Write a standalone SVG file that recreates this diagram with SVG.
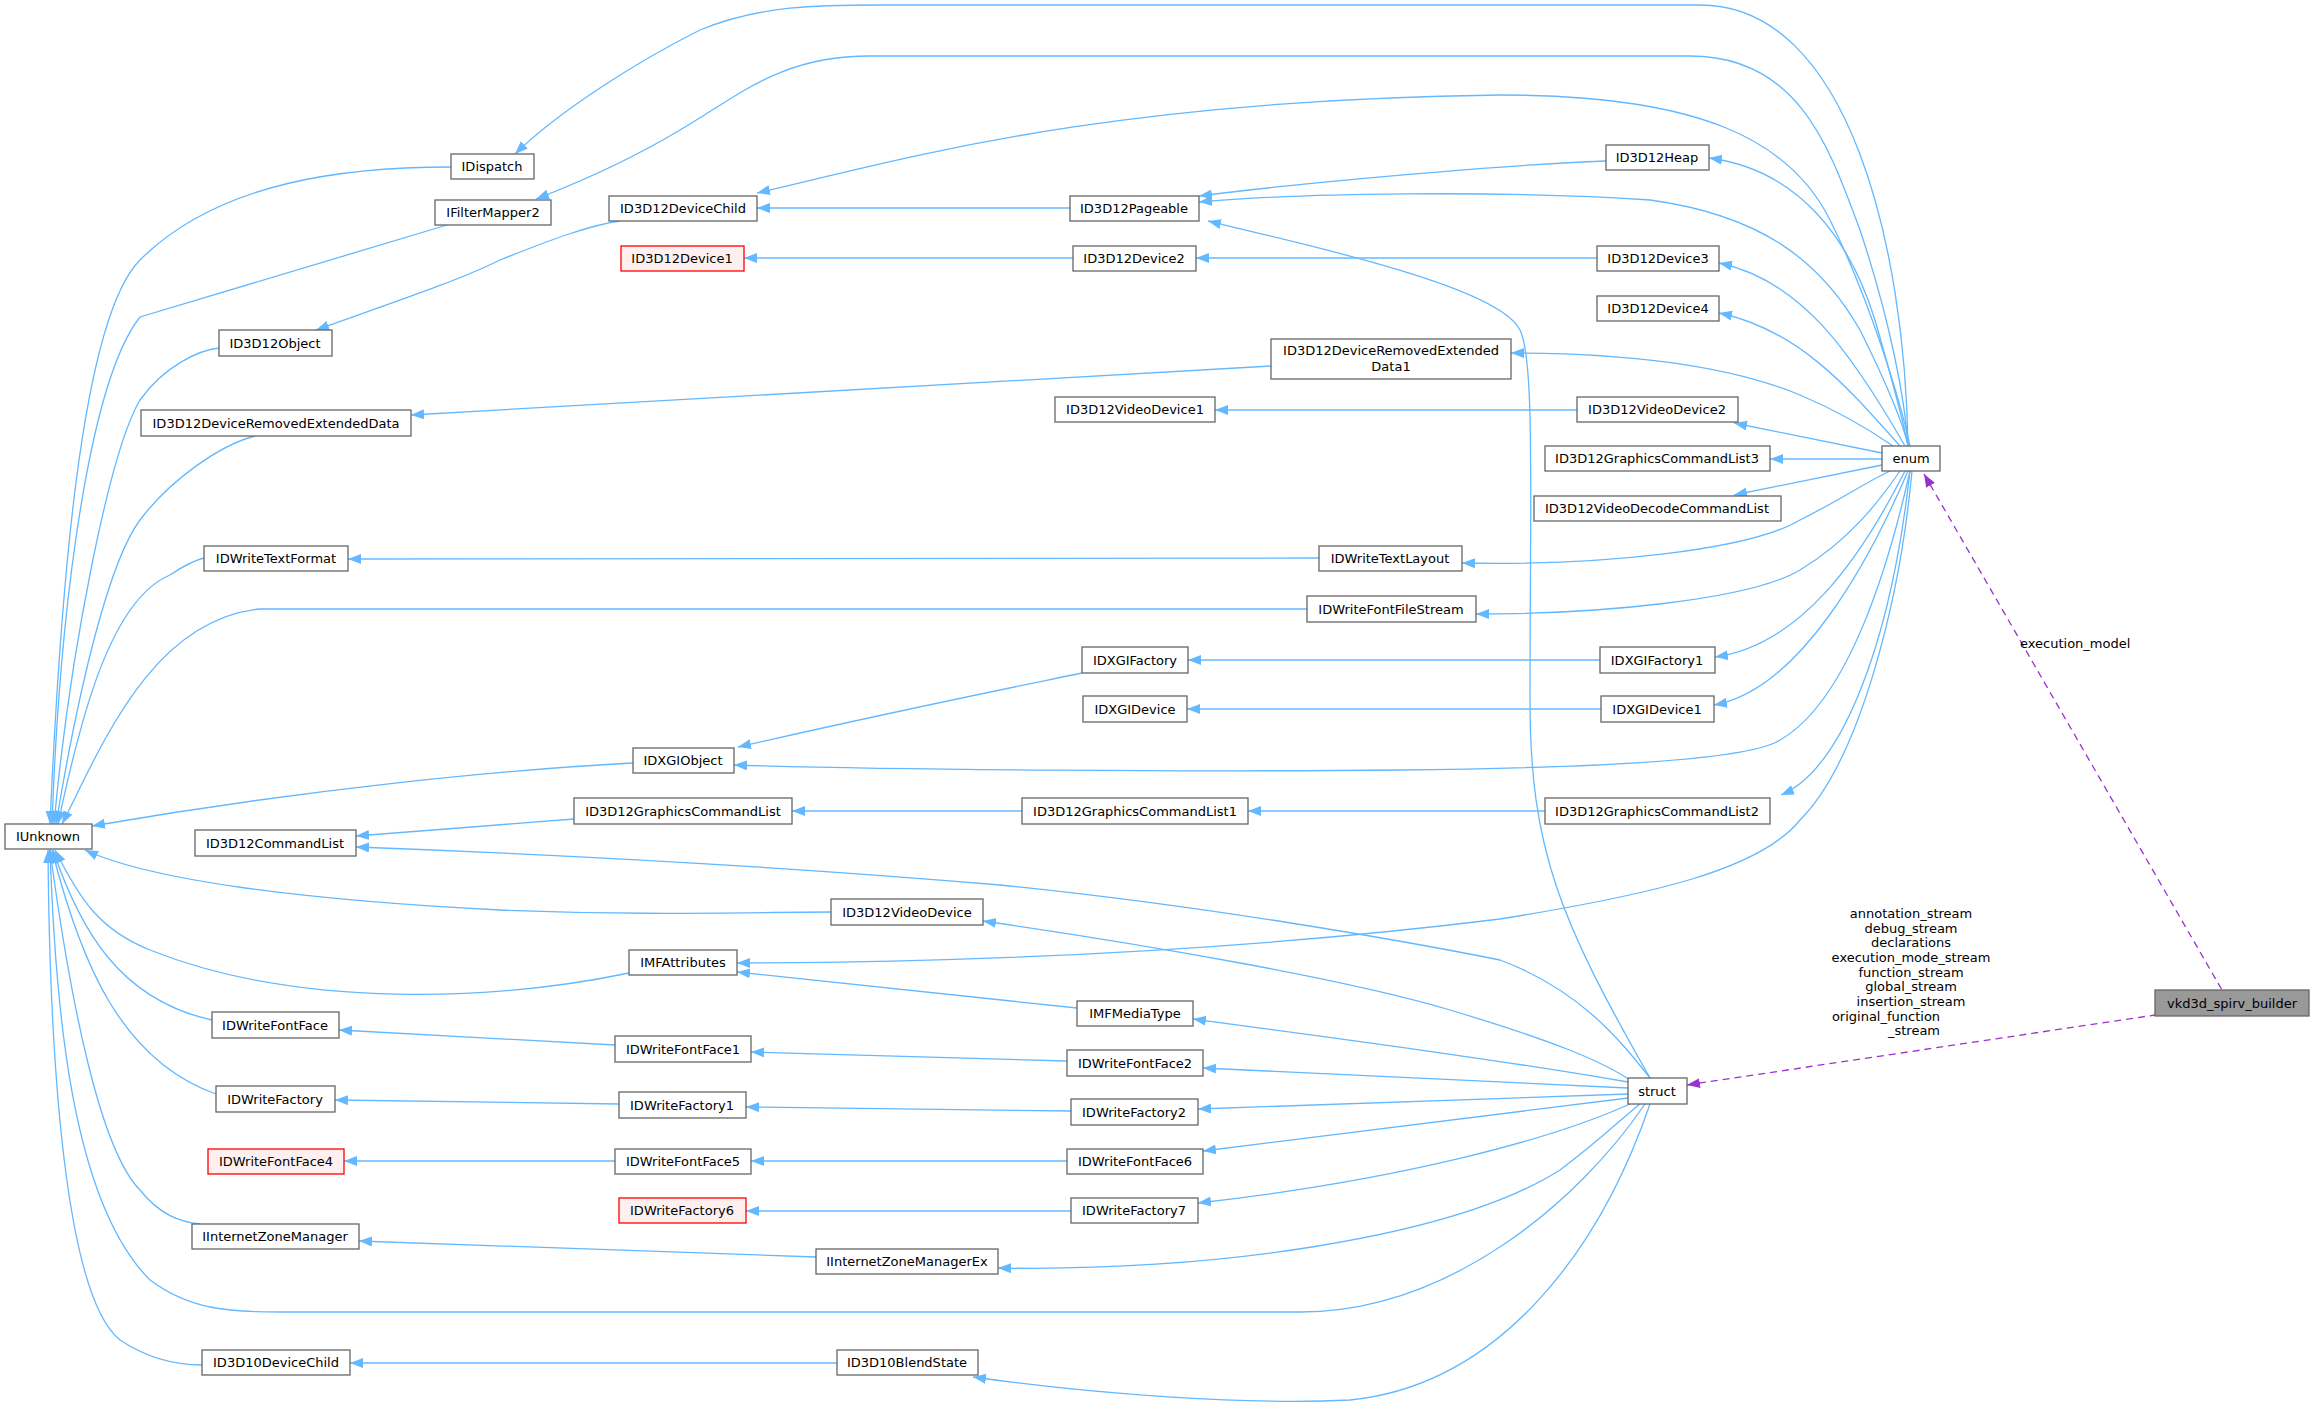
<svg xmlns="http://www.w3.org/2000/svg" width="2315" height="1407" viewBox="0 0 2315 1407">
<style>
.n rect{fill:#fff;stroke:#666;stroke-width:1.3}
.r rect{fill:#fff0f0;stroke:#ff0000;stroke-width:1.3}
.g rect{fill:#999;stroke:#666;stroke-width:1.3}
text{font-family:"DejaVu Sans",sans-serif;font-size:13px;fill:#000;text-anchor:middle}
#edges path{fill:none;stroke:#63b8ff;stroke-width:1.3;marker-start:url(#a)}
#edges path.d{stroke:#9a32cd;stroke-dasharray:7,5;marker-start:url(#p)}
.lbl{text-anchor:middle}
</style>
<defs>
<marker id="a" markerUnits="userSpaceOnUse" markerWidth="14" markerHeight="12" refX="13" refY="5" orient="auto-start-reverse"><path d="M0,0L13,5L0,10z" fill="#63b8ff"/></marker>
<marker id="p" markerUnits="userSpaceOnUse" markerWidth="14" markerHeight="12" refX="13" refY="5" orient="auto-start-reverse"><path d="M0,0L13,5L0,10z" fill="#9a32cd"/></marker>
</defs>
<rect width="2315" height="1407" fill="#fff"/>
<g id="edges">
<path d="M515,154 C560,110 640,60 700,30 C760,5 820,5 880,5 L1700,5 C1850,5 1905,250 1908,446"/>
<path d="M536,199 C580,182 630,160 680,130 C740,95 780,56 870,56 L1690,56 C1800,56 1830,150 1860,230 C1890,320 1905,400 1908,446"/>
<path d="M757,193 C900,160 1100,100 1500,95 C1700,95 1790,140 1830,220 C1870,300 1900,400 1910,446"/>
<path d="M1199,196 C1300,183 1500,165 1606,161"/>
<path d="M1199,202 C1300,193 1500,190 1650,200 C1760,215 1820,260 1860,330 C1890,390 1905,430 1908,446"/>
<path d="M1208,221 C1350,255 1500,290 1520,330 C1535,360 1530,500 1530,700 C1530,850 1560,920 1650,1078"/>
<path d="M1709,158 C1800,170 1850,240 1875,320 C1895,390 1905,430 1908,446"/>
<path d="M1719,263 C1800,280 1850,350 1905,446"/>
<path d="M1719,313 C1800,330 1850,390 1900,446"/>
<path d="M1511,353 C1650,353 1740,370 1800,395 C1840,412 1870,430 1893,446"/>
<path d="M1734,423 L1882,453"/>
<path d="M1770,459 L1882,459"/>
<path d="M1734,495 L1882,465"/>
<path d="M1462,563 C1600,566 1750,550 1800,520 C1840,500 1870,480 1890,471"/>
<path d="M1476,614 C1600,614 1750,600 1800,570 C1850,540 1880,500 1900,471"/>
<path d="M1715,657 C1800,645 1860,560 1905,471"/>
<path d="M1714,705 C1800,690 1870,560 1908,471"/>
<path d="M734,765 C900,770 1200,772 1400,770 C1600,768 1750,760 1780,740 C1850,700 1890,560 1910,471"/>
<path d="M1781,795 C1840,770 1890,650 1910,471"/>
<path d="M737,963 C1000,962 1250,950 1500,919 C1650,895 1760,870 1800,820 C1860,760 1900,600 1912,471"/>
<path d="M356,847 C600,856 800,868 1000,885 C1200,905 1400,940 1500,960 C1580,990 1620,1040 1650,1078"/>
<path d="M983,921 C1150,945 1350,980 1450,1010 C1550,1040 1600,1060 1630,1080"/>
<path d="M1193,1019 C1350,1040 1500,1060 1628,1082"/>
<path d="M1203,1068 L1628,1088"/>
<path d="M1198,1109 L1628,1094"/>
<path d="M1203,1151 L1628,1098"/>
<path d="M1198,1203 C1400,1180 1550,1140 1630,1104"/>
<path d="M998,1268 C1200,1272 1450,1240 1560,1170 C1600,1140 1620,1120 1640,1104"/>
<path d="M50,849 C55,1000 70,1200 150,1280 C190,1310 230,1312 280,1312 L1300,1312 C1450,1312 1580,1200 1645,1104"/>
<path d="M973,1377 C1100,1395 1250,1405 1350,1400 C1500,1385 1600,1250 1650,1104"/>
<path d="M50,824 C60,600 80,320 140,260 C220,180 350,167 451,167"/>
<path d="M52,824 C60,600 90,380 140,317 L447,225"/>
<path d="M54,824 C70,650 110,450 140,400 C165,365 200,350 219,348"/>
<path d="M56,824 C80,680 110,560 140,520 C170,480 220,445 255,436"/>
<path d="M58,824 C80,720 110,600 170,575 C185,565 195,560 204,558"/>
<path d="M62,824 C100,750 150,620 260,609 L1307,609"/>
<path d="M92,826 C300,790 500,770 633,763"/>
<path d="M85,850 C150,880 300,900 500,910 C650,916 750,912 831,912"/>
<path d="M55,850 C80,900 100,930 150,950 C300,1010 500,1000 629,973"/>
<path d="M53,850 C80,930 120,1000 212,1020"/>
<path d="M52,850 C80,960 120,1060 216,1094"/>
<path d="M50,850 C70,1000 100,1150 140,1190 C160,1215 180,1222 200,1224"/>
<path d="M48,850 C50,1100 70,1300 120,1340 C150,1360 180,1365 202,1365"/>
<path d="M757,208 L1070,208"/>
<path d="M744,258 L1073,258"/>
<path d="M1196,258 L1597,258"/>
<path d="M316,330 C400,300 460,280 500,260 C550,240 590,225 620,221"/>
<path d="M411,415 L1271,366"/>
<path d="M1215,410 L1577,410"/>
<path d="M348,559 L1319,558"/>
<path d="M738,747 C900,710 1000,690 1082,673"/>
<path d="M1188,660 L1600,660"/>
<path d="M1187,709 L1601,709"/>
<path d="M356,836 L574,819"/>
<path d="M792,811 L1022,811"/>
<path d="M1248,811 L1545,811"/>
<path d="M737,972 L1077,1008"/>
<path d="M339,1030 L615,1045"/>
<path d="M751,1052 L1067,1061"/>
<path d="M335,1100 L619,1104"/>
<path d="M746,1107 L1071,1111"/>
<path d="M344,1161 L615,1161"/>
<path d="M751,1161 L1067,1161"/>
<path d="M746,1211 L1071,1211"/>
<path d="M359,1241 L816,1257"/>
<path d="M350,1363 L837,1363"/>
<path class="d" d="M1687,1085 L2155,1015"/>
<path class="d" d="M1924,474 L2222,990"/>
</g>
<text x="1911" y="918">annotation_stream</text>
<text x="1911" y="933">debug_stream</text>
<text x="1911" y="947">declarations</text>
<text x="1911" y="962">execution_mode_stream</text>
<text x="1911" y="977">function_stream</text>
<text x="1911" y="991">global_stream</text>
<text x="1911" y="1006">insertion_stream</text>
<text x="1886" y="1021">original_function</text>
<text x="1914" y="1035">_stream</text>
<text x="2020" y="648" style="text-anchor:start">execution_model</text>
<g id="IDispatch" class="n"><rect x="451" y="154" width="83" height="25"/><text x="492" y="171">IDispatch</text></g>
<g id="IFilterMapper2" class="n"><rect x="435" y="200" width="116" height="25"/><text x="493" y="217">IFilterMapper2</text></g>
<g id="ID3D12DeviceChild" class="n"><rect x="609" y="196" width="148" height="25"/><text x="683" y="213">ID3D12DeviceChild</text></g>
<g id="ID3D12Device1" class="r"><rect x="621" y="246" width="123" height="25"/><text x="682" y="263">ID3D12Device1</text></g>
<g id="ID3D12Object" class="n"><rect x="219" y="330" width="113" height="26"/><text x="275" y="348">ID3D12Object</text></g>
<g id="ID3D12DeviceRemovedExtendedData" class="n"><rect x="141" y="410" width="270" height="26"/><text x="276" y="428">ID3D12DeviceRemovedExtendedData</text></g>
<g id="IDWriteTextFormat" class="n"><rect x="204" y="546" width="144" height="25"/><text x="276" y="563">IDWriteTextFormat</text></g>
<g id="IUnknown" class="n"><rect x="5" y="824" width="87" height="25"/><text x="48" y="841">IUnknown</text></g>
<g id="IDXGIObject" class="n"><rect x="633" y="748" width="101" height="25"/><text x="683" y="765">IDXGIObject</text></g>
<g id="ID3D12GraphicsCommandList" class="n"><rect x="574" y="798" width="218" height="26"/><text x="683" y="816">ID3D12GraphicsCommandList</text></g>
<g id="ID3D12CommandList" class="n"><rect x="195" y="830" width="161" height="26"/><text x="275" y="848">ID3D12CommandList</text></g>
<g id="IMFAttributes" class="n"><rect x="629" y="950" width="108" height="25"/><text x="683" y="967">IMFAttributes</text></g>
<g id="IDWriteFontFace" class="n"><rect x="212" y="1012" width="127" height="26"/><text x="275" y="1030">IDWriteFontFace</text></g>
<g id="IDWriteFontFace1" class="n"><rect x="615" y="1036" width="136" height="26"/><text x="683" y="1054">IDWriteFontFace1</text></g>
<g id="IDWriteFactory" class="n"><rect x="216" y="1086" width="119" height="26"/><text x="275" y="1104">IDWriteFactory</text></g>
<g id="IDWriteFactory1" class="n"><rect x="619" y="1092" width="127" height="26"/><text x="682" y="1110">IDWriteFactory1</text></g>
<g id="IDWriteFontFace4" class="r"><rect x="208" y="1149" width="136" height="25"/><text x="276" y="1166">IDWriteFontFace4</text></g>
<g id="IDWriteFontFace5" class="n"><rect x="615" y="1149" width="136" height="25"/><text x="683" y="1166">IDWriteFontFace5</text></g>
<g id="IDWriteFactory6" class="r"><rect x="619" y="1198" width="127" height="25"/><text x="682" y="1215">IDWriteFactory6</text></g>
<g id="IInternetZoneManager" class="n"><rect x="192" y="1224" width="167" height="25"/><text x="275" y="1241">IInternetZoneManager</text></g>
<g id="ID3D10DeviceChild" class="n"><rect x="202" y="1350" width="148" height="25"/><text x="276" y="1367">ID3D10DeviceChild</text></g>
<g id="ID3D12Pageable" class="n"><rect x="1070" y="196" width="129" height="25"/><text x="1134" y="213">ID3D12Pageable</text></g>
<g id="ID3D12Device2" class="n"><rect x="1073" y="246" width="123" height="25"/><text x="1134" y="263">ID3D12Device2</text></g>
<g id="ID3D12DeviceRemovedExtendedData1" class="n"><rect x="1271" y="339" width="240" height="40"/><text x="1391" y="355">ID3D12DeviceRemovedExtended</text><text x="1391" y="371">Data1</text></g>
<g id="ID3D12VideoDevice1" class="n"><rect x="1055" y="397" width="160" height="25"/><text x="1135" y="414">ID3D12VideoDevice1</text></g>
<g id="IDWriteTextLayout" class="n"><rect x="1319" y="546" width="143" height="25"/><text x="1390" y="563">IDWriteTextLayout</text></g>
<g id="IDWriteFontFileStream" class="n"><rect x="1307" y="596" width="169" height="26"/><text x="1391" y="614">IDWriteFontFileStream</text></g>
<g id="IDXGIFactory" class="n"><rect x="1082" y="647" width="106" height="26"/><text x="1135" y="665">IDXGIFactory</text></g>
<g id="IDXGIDevice" class="n"><rect x="1083" y="696" width="104" height="26"/><text x="1135" y="714">IDXGIDevice</text></g>
<g id="ID3D12GraphicsCommandList1" class="n"><rect x="1022" y="798" width="226" height="26"/><text x="1135" y="816">ID3D12GraphicsCommandList1</text></g>
<g id="ID3D12VideoDevice" class="n"><rect x="831" y="899" width="152" height="26"/><text x="907" y="917">ID3D12VideoDevice</text></g>
<g id="IMFMediaType" class="n"><rect x="1077" y="1001" width="116" height="25"/><text x="1135" y="1018">IMFMediaType</text></g>
<g id="IDWriteFontFace2" class="n"><rect x="1067" y="1050" width="136" height="26"/><text x="1135" y="1068">IDWriteFontFace2</text></g>
<g id="IDWriteFactory2" class="n"><rect x="1071" y="1099" width="127" height="26"/><text x="1134" y="1117">IDWriteFactory2</text></g>
<g id="IDWriteFontFace6" class="n"><rect x="1067" y="1149" width="136" height="25"/><text x="1135" y="1166">IDWriteFontFace6</text></g>
<g id="IDWriteFactory7" class="n"><rect x="1071" y="1198" width="127" height="25"/><text x="1134" y="1215">IDWriteFactory7</text></g>
<g id="IInternetZoneManagerEx" class="n"><rect x="816" y="1249" width="182" height="25"/><text x="907" y="1266">IInternetZoneManagerEx</text></g>
<g id="ID3D10BlendState" class="n"><rect x="837" y="1350" width="141" height="25"/><text x="907" y="1367">ID3D10BlendState</text></g>
<g id="ID3D12Heap" class="n"><rect x="1606" y="145" width="103" height="25"/><text x="1657" y="162">ID3D12Heap</text></g>
<g id="ID3D12Device3" class="n"><rect x="1597" y="246" width="122" height="25"/><text x="1658" y="263">ID3D12Device3</text></g>
<g id="ID3D12Device4" class="n"><rect x="1597" y="296" width="122" height="25"/><text x="1658" y="313">ID3D12Device4</text></g>
<g id="ID3D12VideoDevice2" class="n"><rect x="1577" y="397" width="161" height="25"/><text x="1657" y="414">ID3D12VideoDevice2</text></g>
<g id="ID3D12GraphicsCommandList3" class="n"><rect x="1545" y="446" width="225" height="25"/><text x="1657" y="463">ID3D12GraphicsCommandList3</text></g>
<g id="ID3D12VideoDecodeCommandList" class="n"><rect x="1534" y="496" width="247" height="25"/><text x="1657" y="513">ID3D12VideoDecodeCommandList</text></g>
<g id="enum" class="n"><rect x="1882" y="446" width="58" height="25"/><text x="1911" y="463">enum</text></g>
<g id="IDXGIFactory1" class="n"><rect x="1600" y="647" width="115" height="26"/><text x="1657" y="665">IDXGIFactory1</text></g>
<g id="IDXGIDevice1" class="n"><rect x="1601" y="696" width="113" height="26"/><text x="1657" y="714">IDXGIDevice1</text></g>
<g id="ID3D12GraphicsCommandList2" class="n"><rect x="1545" y="798" width="225" height="26"/><text x="1657" y="816">ID3D12GraphicsCommandList2</text></g>
<g id="struct" class="n"><rect x="1628" y="1078" width="59" height="26"/><text x="1657" y="1096">struct</text></g>
<g id="vkd3d_spirv_builder" class="g"><rect x="2155" y="990" width="154" height="26"/><text x="2232" y="1008">vkd3d_spirv_builder</text></g>
</svg>
